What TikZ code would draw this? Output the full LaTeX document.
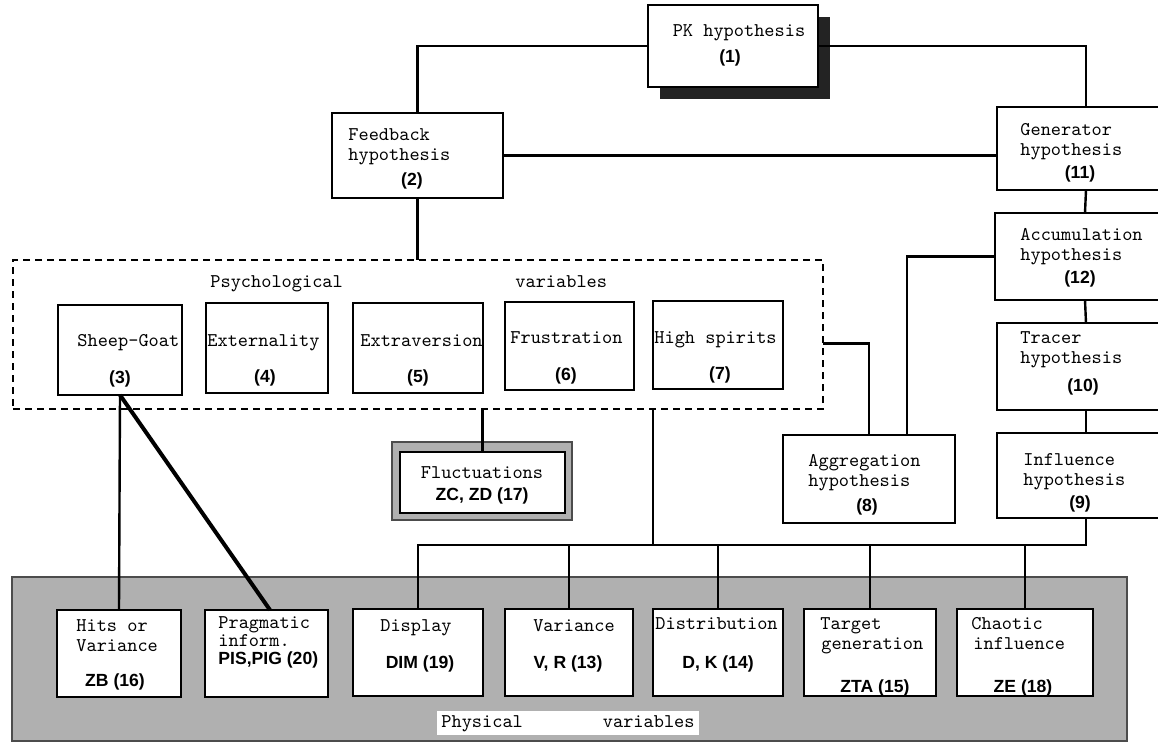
\documentclass[tikz,border=0pt]{standalone}
\usepackage{fontspec}
\newfontfamily\sansf{Liberation Sans}
\usetikzlibrary{calc,shadows}
\definecolor{bandgray}{RGB}{176,176,176}
\definecolor{shadowc}{RGB}{35,35,35}
\tikzset{
 bx/.style={draw=black, line width=1pt, fill=white, inner sep=0pt, outer sep=0pt},
 conn/.style={line width=1.2pt, black},
 psybox/.style={draw=black, fill=none, dashed, dash pattern=on 3.5pt off 2.5pt, line width=1.3pt},
 shadebox/.style={fill=bandgray, draw=black!70, line width=0.8pt},
 tl/.style={font=\ttfamily\fontsize{9.7}{11}\selectfont, inner sep=0pt, anchor=base west},
 tc/.style={font=\ttfamily\fontsize{9.7}{11}\selectfont, inner sep=0pt, anchor=base},
 num/.style={font=\sansf\bfseries\fontsize{8.8}{10}\selectfont, inner sep=0pt, anchor=base},
 numl/.style={font=\sansf\bfseries\fontsize{8.8}{10}\selectfont, inner sep=0pt, anchor=base west},
}
\newcommand\mkbox[6][]{\node[bx,#1,minimum width={(#5-#3)*0.5pt},minimum height={(#6-#4)*0.5pt}] (#2) at ({(#3+#5)/2},{(#4+#6)/2}) {};}
\begin{document}
\begin{tikzpicture}[x=0.5pt,y=-0.5pt]
\useasboundingbox (0,0) rectangle (1158,745);
\fill[white] (0,0) rectangle (1158,745);
\clip (0,0) rectangle (1158,745);
% shaded band of physical variables
\mkbox[shadebox]{band}{12}{577}{1127}{741}
% dashed frame of psychological variables
\mkbox[psybox]{psy}{13}{260}{823}{409}
% boxes
\mkbox[drop shadow={shadow xshift=6pt,shadow yshift=-6pt,fill=shadowc,opacity=1}]{pk}{648}{5}{818}{87}
\mkbox{fb}{332}{113}{503}{198}
\mkbox{gen}{997}{107}{1175}{190}
\mkbox{acc}{995}{213}{1175}{300}
\mkbox{tr}{997}{323}{1175}{410}
\mkbox{inf}{997}{433}{1175}{518}
\mkbox{agg}{783}{435}{955}{523}
\mkbox{sg}{58}{305}{182}{395}
\mkbox{ext}{206}{303}{328}{393}
\mkbox{exv}{353}{303}{483}{393}
\mkbox{fru}{505}{302}{634}{390}
\mkbox{hs}{653}{301}{783}{389}
\mkbox[shadebox]{fluo}{392}{442}{572}{520}
\mkbox{flu}{400}{452}{565}{513}
\mkbox{hits}{57}{610}{181}{697}
\mkbox{prag}{205}{610}{328}{697}
\mkbox{disp}{353}{609}{483}{696}
\mkbox{var}{505}{609}{633}{696}
\mkbox{dist}{653}{609}{783}{696}
\mkbox{tgt}{804}{609}{936}{696}
\mkbox{cha}{957}{609}{1093}{696}
% connectors
\draw[conn] (pk.west) -| (fb.north);
\draw[conn] (pk.east) -| (gen.north);
\draw[conn] (fb.east) -- (fb.east -| gen.west);
\draw[conn] (gen.south) -- (acc.north);
\draw[conn] (acc.south) -- (tr.north);
\draw[conn] (tr.south) -- (inf.north);
\draw[conn] (fb.south) -- (fb.south |- psy.north);
\draw[conn] (acc.west) -| ($(agg.north)+(38,0)$);
\draw[conn] ($(psy.east)+(0,9)$) -| (agg.north);
\draw[conn] (flu.north |- psy.south) -- (flu.north);
\coordinate (bus) at (0,545);
\draw[conn] (inf.south) |- (bus -| disp.north) -- (disp.north);
\foreach \b in {var,dist,tgt,cha} \draw[conn] (\b.north |- bus) -- (\b.north);
\draw[conn] (hs.south west |- psy.south) -- (hs.south west |- bus);
\draw[conn] (sg.south) -- (hits.north);
\draw[conn, line width=2pt] (sg.south) -- ($(prag.north west)+(65,0)$);
% texts
\node[tc] at (739,36) {PK hypothesis};
\node[num] at (730,62) {(1)};
\node[tl] at (348,140) {Feedback};
\node[tl] at (348,160) {hypothesis};
\node[num] at (412,185) {(2)};
\node[tl] at (1020,135) {Generator};
\node[tl] at (1020,155) {hypothesis};
\node[num] at (1080,178) {(11)};
\node[tl] at (1020,240) {Accumulation};
\node[tl] at (1020,260) {hypothesis};
\node[num] at (1080,283) {(12)};
\node[tl] at (1020,343) {Tracer};
\node[tl] at (1020,363) {hypothesis};
\node[num] at (1083,391) {(10)};
\node[tl] at (1023,465) {Influence};
\node[tl] at (1023,485) {hypothesis};
\node[num] at (1080,508) {(9)};
\node[tl] at (808,466) {Aggregation};
\node[tl] at (808,486) {hypothesis};
\node[num] at (867,511) {(8)};
\node[tl] at (210,287) {Psychological};
\node[tl] at (515,287) {variables};
\node[tl] at (77,346) {Sheep-Goat};
\node[num] at (120,383) {(3)};
\node[tl] at (207,346) {Externality};
\node[num] at (265,382) {(4)};
\node[tl] at (360,346) {Extraversion};
\node[num] at (418,382) {(5)};
\node[tl] at (510,343) {Frustration};
\node[num] at (566,380) {(6)};
\node[tl] at (654,343) {High spirits};
\node[num] at (720,379) {(7)};
\node[tc] at (482,478) {Fluctuations};
\node[num] at (482,500) {ZC, ZD (17)};
\node[tl] at (76,631) {Hits or};
\node[tl] at (76,651) {Variance};
\node[num] at (115,686) {ZB (16)};
\node[tl] at (218,628) {Pragmatic};
\node[tl] at (218,646) {inform.};
\node[numl] at (218,664) {PIS,PIG (20)};
\node[tc] at (416,631) {Display};
\node[num] at (420,668) {DIM (19)};
\node[tc] at (574,631) {Variance};
\node[num] at (568,668) {V, R (13)};
\node[tl] at (655,629) {Distribution};
\node[num] at (718,668) {D, K (14)};
\node[tl] at (820,629) {Target};
\node[tl] at (821,649) {generation};
\node[num] at (875,692) {ZTA (15)};
\node[tl] at (971,629) {Chaotic};
\node[tl] at (973,649) {influence};
\node[num] at (1023,692) {ZE (18)};
\node[tc, fill=white, inner sep=2pt] (phys) at (568,727) {Physical\hspace{40pt}variables};
\end{tikzpicture}
\end{document}
